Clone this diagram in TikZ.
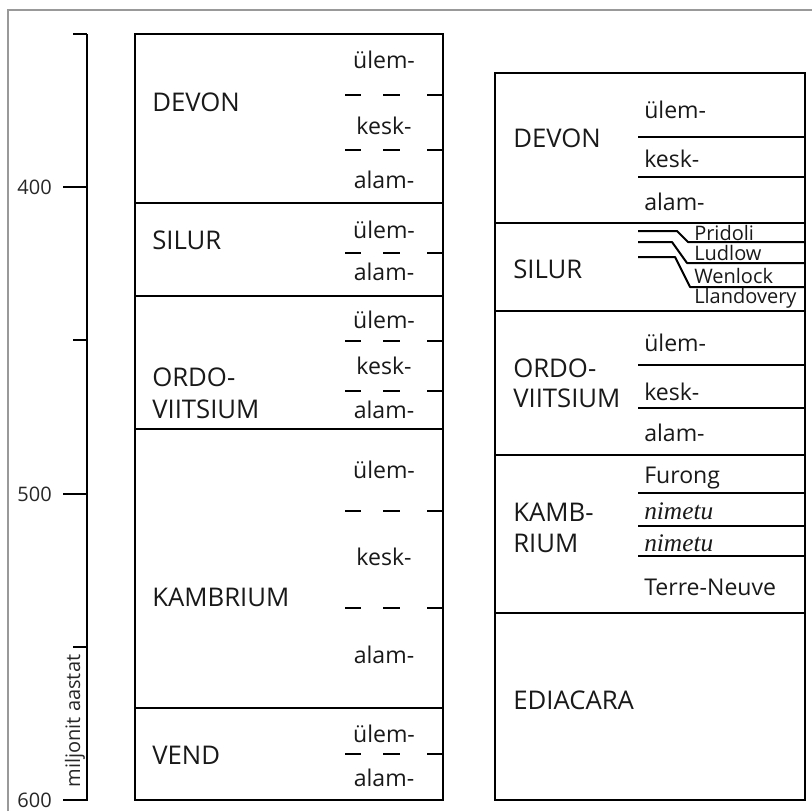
\documentclass[tikz,border=0pt]{standalone}
\usepackage{fontspec}
\setmainfont{Open Sans}
\newfontfamily\serifit{Liberation Serif}
\begin{document}
\begin{tikzpicture}[x=0.75pt,y=-0.75pt,
  mainlab/.style={anchor=west, inner sep=0, text=black!90, font=\fontsize{19.3}{23}\selectfont},
  sublab/.style={inner sep=0, text=black!90, font=\fontsize{17.3}{21}\selectfont},
  subleft/.style={sublab, anchor=west},
  tinylab/.style={anchor=west, inner sep=0, text=black!90, font=\fontsize{15}{18}\selectfont},
  italab/.style={anchor=west, inner sep=0, text=black!90, font=\serifit\itshape\fontsize{19}{22}\selectfont},
  axlab/.style={anchor=east, inner sep=0, text=black!85, font=\fontsize{15}{18}\selectfont},
  boxline/.style={line width=1.9pt, line join=miter},
  subline/.style={line width=1.5pt},
  dashseg/.style={line width=2.2pt},
  axisline/.style={line width=1.9pt}
]
\useasboundingbox (0,0) rectangle (812,811);
% frame
\draw[black!40, line width=1.5pt] (8,811) -- (8,10) -- (812,10);

% ---------- axis ----------
\coordinate (axtop) at (87,34);
\coordinate (axbot) at (87,801);
\draw[axisline] (axtop) -- (axbot);
\foreach \y/\len in {34/73,187/63,340/73,494/63,647/73,800/63}{
  \draw[axisline] (\len,\y) -- (87,\y);
}
\node[axlab] (l400) at (52,187) {400};
\node[axlab] (l500) at (52,494) {500};
\node[axlab] (l600) at (52,800) {600};
\node[rotate=90, anchor=base, inner sep=0, text=black!85, font=\fontsize{15}{18}\selectfont] (unit) at (80,721) {miljonit aastat};

% ---------- left column ----------
\draw[boxline] (135,34) rectangle (443,800);
\foreach \y in {203,296,429,708}{ \draw[boxline] (135,\y) -- (443,\y); }
\foreach \y in {95,150,253,341,391,511,608,754}{
  \draw[dashseg] (345,\y) -- (361,\y);
  \draw[dashseg] (383,\y) -- (400,\y);
  \draw[dashseg] (427,\y) -- (443,\y);
}
\node[mainlab] (lDev) at (152,102) {DEVON};
\node[mainlab] (lSil) at (152,240) {SILUR};
\node[mainlab] (lOrd1) at (152,377) {ORDO-};
\node[mainlab] (lOrd2) at (152,409) {VIITSIUM};
\node[mainlab] (lKam) at (152,597) {KAMBRIUM};
\node[mainlab] (lVen) at (152,755) {VEND};

\node[sublab] (a1) at (384,60) {ülem-};
\node[sublab] (a2) at (384,126) {kesk-};
\node[sublab] (a3) at (384,180) {alam-};
\node[sublab] (b1) at (384,230) {ülem-};
\node[sublab] (b2) at (384,272) {alam-};
\node[sublab] (c1) at (384,320) {ülem-};
\node[sublab] (c2) at (384,366) {kesk-};
\node[sublab] (c3) at (384,410) {alam-};
\node[sublab] (d1) at (384,470) {ülem-};
\node[sublab] (d2) at (384,557) {kesk-};
\node[sublab] (d3) at (384,655) {alam-};
\node[sublab] (e1) at (384,734) {ülem-};
\node[sublab] (e2) at (384,778) {alam-};

% ---------- right column ----------
\draw[boxline] (495,73) rectangle (805,800);
\foreach \y in {223,311,455,613}{ \draw[boxline] (495,\y) -- (805,\y); }
\foreach \y in {137,177,365,408,493,526,556}{ \draw[subline] (638,\y) -- (805,\y); }
% Silur stepped lines
\draw[subline, line join=round] (638,231) -- (677,231) -- (688,242) -- (805,242);
\draw[subline, line join=round] (638,242) -- (672,242) -- (687,263) -- (805,263);
\draw[subline, line join=round] (638,257) -- (675,257) -- (690,287) -- (805,287);

\node[mainlab] (rDev) at (513,138) {DEVON};
\node[mainlab] (rSil) at (513,269) {SILUR};
\node[mainlab] (rOrd1) at (513,368) {ORDO-};
\node[mainlab] (rOrd2) at (513,398) {VIITSIUM};
\node[mainlab] (rKam1) at (513,512) {KAMB-};
\node[mainlab] (rKam2) at (513,543) {RIUM};
\node[mainlab] (rEdi) at (513,700) {EDIACARA};

\node[subleft] (f1) at (644,110) {ülem-};
\node[subleft] (f2) at (644,159) {kesk-};
\node[subleft] (f3) at (644,202) {alam-};
\node[tinylab] (s1) at (694,233) {Pridoli};
\node[tinylab] (s2) at (694,253) {Ludlow};
\node[tinylab] (s3) at (694,276) {Wenlock};
\node[tinylab] (s4) at (694,298) {Llandovery};
\node[subleft] (g1) at (644,343) {ülem-};
\node[subleft] (g2) at (644,392) {kesk-};
\node[subleft] (g3) at (644,433) {alam-};
\node[subleft] (h1) at (644,478) {Furong};
\node[italab] (h2) at (644,511) {nimetu};
\node[italab] (h3) at (644,543) {nimetu};
\node[subleft] (h4) at (644,587) {Terre-Neuve};
\end{tikzpicture}
\end{document}
